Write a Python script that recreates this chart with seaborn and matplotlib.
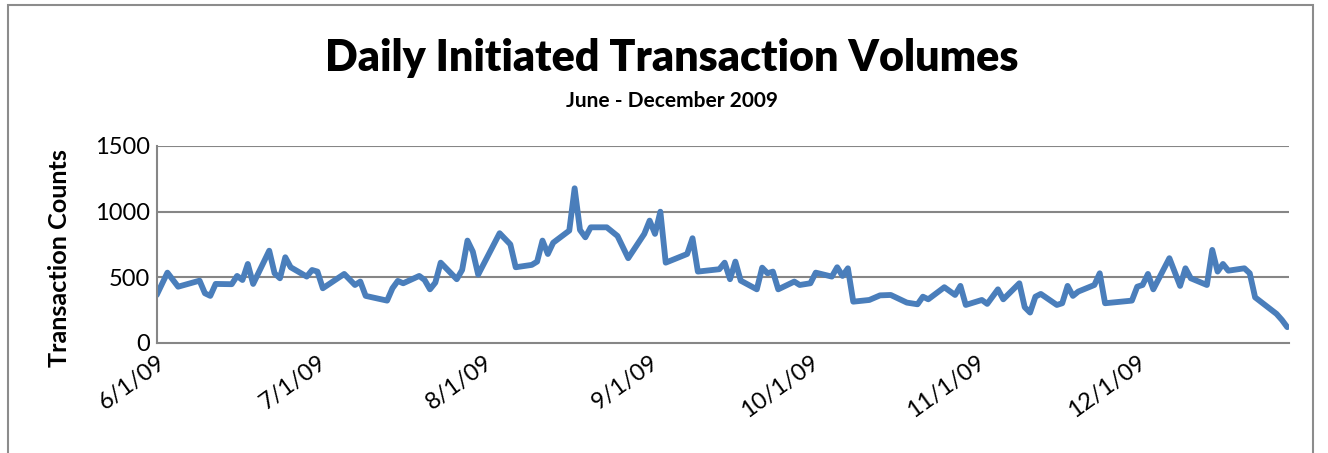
import pandas as pd
import matplotlib.pyplot as plt
import matplotlib.dates as mdates
import seaborn as sns
from matplotlib.patches import Rectangle

dates = [
    "2009-06-01", "2009-06-03", "2009-06-05", "2009-06-09", "2009-06-10", "2009-06-11",
    "2009-06-12", "2009-06-15", "2009-06-16", "2009-06-17", "2009-06-18", "2009-06-19",
    "2009-06-22", "2009-06-23", "2009-06-24", "2009-06-25", "2009-06-26", "2009-06-29",
    "2009-06-30", "2009-07-01", "2009-07-02", "2009-07-06", "2009-07-08", "2009-07-09",
    "2009-07-10", "2009-07-14", "2009-07-15", "2009-07-16", "2009-07-17", "2009-07-20",
    "2009-07-21", "2009-07-22", "2009-07-23", "2009-07-24", "2009-07-27", "2009-07-28",
    "2009-07-29", "2009-07-30", "2009-07-31", "2009-08-04", "2009-08-06", "2009-08-07",
    "2009-08-10", "2009-08-11", "2009-08-12", "2009-08-13", "2009-08-14", "2009-08-17",
    "2009-08-18", "2009-08-19", "2009-08-20", "2009-08-21", "2009-08-24", "2009-08-26",
    "2009-08-28", "2009-08-31", "2009-09-01", "2009-09-02", "2009-09-03", "2009-09-04",
    "2009-09-08", "2009-09-09", "2009-09-10", "2009-09-14", "2009-09-15", "2009-09-16",
    "2009-09-17", "2009-09-18", "2009-09-21", "2009-09-22", "2009-09-23", "2009-09-24",
    "2009-09-25", "2009-09-28", "2009-09-29", "2009-10-01", "2009-10-02", "2009-10-05",
    "2009-10-06", "2009-10-07", "2009-10-08", "2009-10-09", "2009-10-12", "2009-10-14",
    "2009-10-16", "2009-10-19", "2009-10-21", "2009-10-22", "2009-10-23", "2009-10-26",
    "2009-10-28", "2009-10-29", "2009-10-30", "2009-11-02", "2009-11-03", "2009-11-05",
    "2009-11-06", "2009-11-09", "2009-11-10", "2009-11-11", "2009-11-12", "2009-11-13",
    "2009-11-16", "2009-11-17", "2009-11-18", "2009-11-19", "2009-11-20", "2009-11-23",
    "2009-11-24", "2009-11-25", "2009-11-30", "2009-12-01", "2009-12-02", "2009-12-03",
    "2009-12-04", "2009-12-07", "2009-12-09", "2009-12-10", "2009-12-11", "2009-12-14",
    "2009-12-15", "2009-12-16", "2009-12-17", "2009-12-18", "2009-12-21", "2009-12-22",
    "2009-12-23", "2009-12-27", "2009-12-28", "2009-12-29",
]
counts = [
    365, 535, 428, 474, 378, 358,
    449, 447, 510, 479, 601, 449,
    702, 530, 492, 652, 576, 505,
    555, 543, 416, 525, 441, 467,
    358, 322, 416, 472, 454, 510,
    479, 408, 459, 611, 485, 555,
    779, 695, 520, 835, 750, 576,
    594, 619, 779, 677, 763, 855,
    1177, 860, 804, 880, 880, 814,
    645, 830, 931, 830, 999, 611,
    677, 797, 543, 561, 611, 485,
    619, 474, 408, 573, 530, 543,
    408, 467, 441, 454, 535, 505,
    576, 510, 568, 314, 327, 362,
    365, 307, 294, 352, 332, 424,
    365, 434, 289, 327, 297, 408,
    332, 454, 272, 231, 352, 373,
    289, 302, 434, 358, 391, 441,
    530, 302, 322, 428, 441, 525,
    408, 645, 434, 568, 492, 441,
    708, 543, 601, 550, 568, 530,
    347, 221, 175, 120,
]
y_ticks = [0, 500, 1000, 1500]
month_ticks = ["2009-06-01", "2009-07-01", "2009-08-01", "2009-09-01",
               "2009-10-01", "2009-11-01", "2009-12-01"]

df = pd.DataFrame({"date": pd.to_datetime(dates), "count": counts})

sns.set_style("white")
plt.rcParams['font.family'] = ['Lato', 'DejaVu Sans']
plt.rcParams['text.color'] = 'black'
plt.rcParams['xtick.labelcolor'] = 'black'
plt.rcParams['ytick.labelcolor'] = 'black'

fig = plt.figure(figsize=(13.28, 4.53), dpi=100)
ax = fig.add_axes([0.118, 0.243, 0.853, 0.435])

sns.lineplot(data=df, x="date", y="count", ax=ax, color="#4A7EBB", linewidth=4.2)

grid_c = "#868686"
ax.set_ylim(0, 1500)
ax.set_yticks(y_ticks)
ax.set_yticklabels([str(v) for v in y_ticks], fontsize=17)
for v in y_ticks[1:]:
    ax.axhline(v, color=grid_c, linewidth=1.5, zorder=0)

ax.set_xlim(pd.Timestamp("2009-06-01"), pd.Timestamp("2009-12-29 10:00"))
ax.set_xticks(pd.to_datetime(month_ticks))
ax.xaxis.set_major_formatter(mdates.DateFormatter("%-m/%-d/%y"))
for lab in ax.get_xticklabels():
    lab.set_rotation(36)
    lab.set_ha("right")
    lab.set_rotation_mode("anchor")
    lab.set_fontsize(17)

for side in ["top", "right"]:
    ax.spines[side].set_visible(False)
for side in ["left", "bottom"]:
    ax.spines[side].set_color(grid_c)
    ax.spines[side].set_linewidth(1.5)
ax.tick_params(axis="x", direction="inout", length=10, width=1.5, color=grid_c, pad=1)
ax.tick_params(axis="y", length=0, pad=5)

ax.set_xlabel("")
ax.set_ylabel("Transaction Counts", fontsize=18.2, fontweight="bold", color="black")
ax.yaxis.set_label_coords(-0.076, 0.43)

fig.text(0.506, 0.872, "Daily Initiated Transaction Volumes", ha="center", va="center",
         fontsize=31, fontweight="heavy", color="black")
fig.text(0.506, 0.776, "June - December 2009", ha="center", va="center",
         fontsize=15, fontweight="bold", color="black")

fig.patches.append(Rectangle((0.006, -0.05), 0.983, 1.04, transform=fig.transFigure,
                             fill=False, edgecolor="#8c8c8c", linewidth=1.5))

fig.savefig("out.png", dpi=100)
